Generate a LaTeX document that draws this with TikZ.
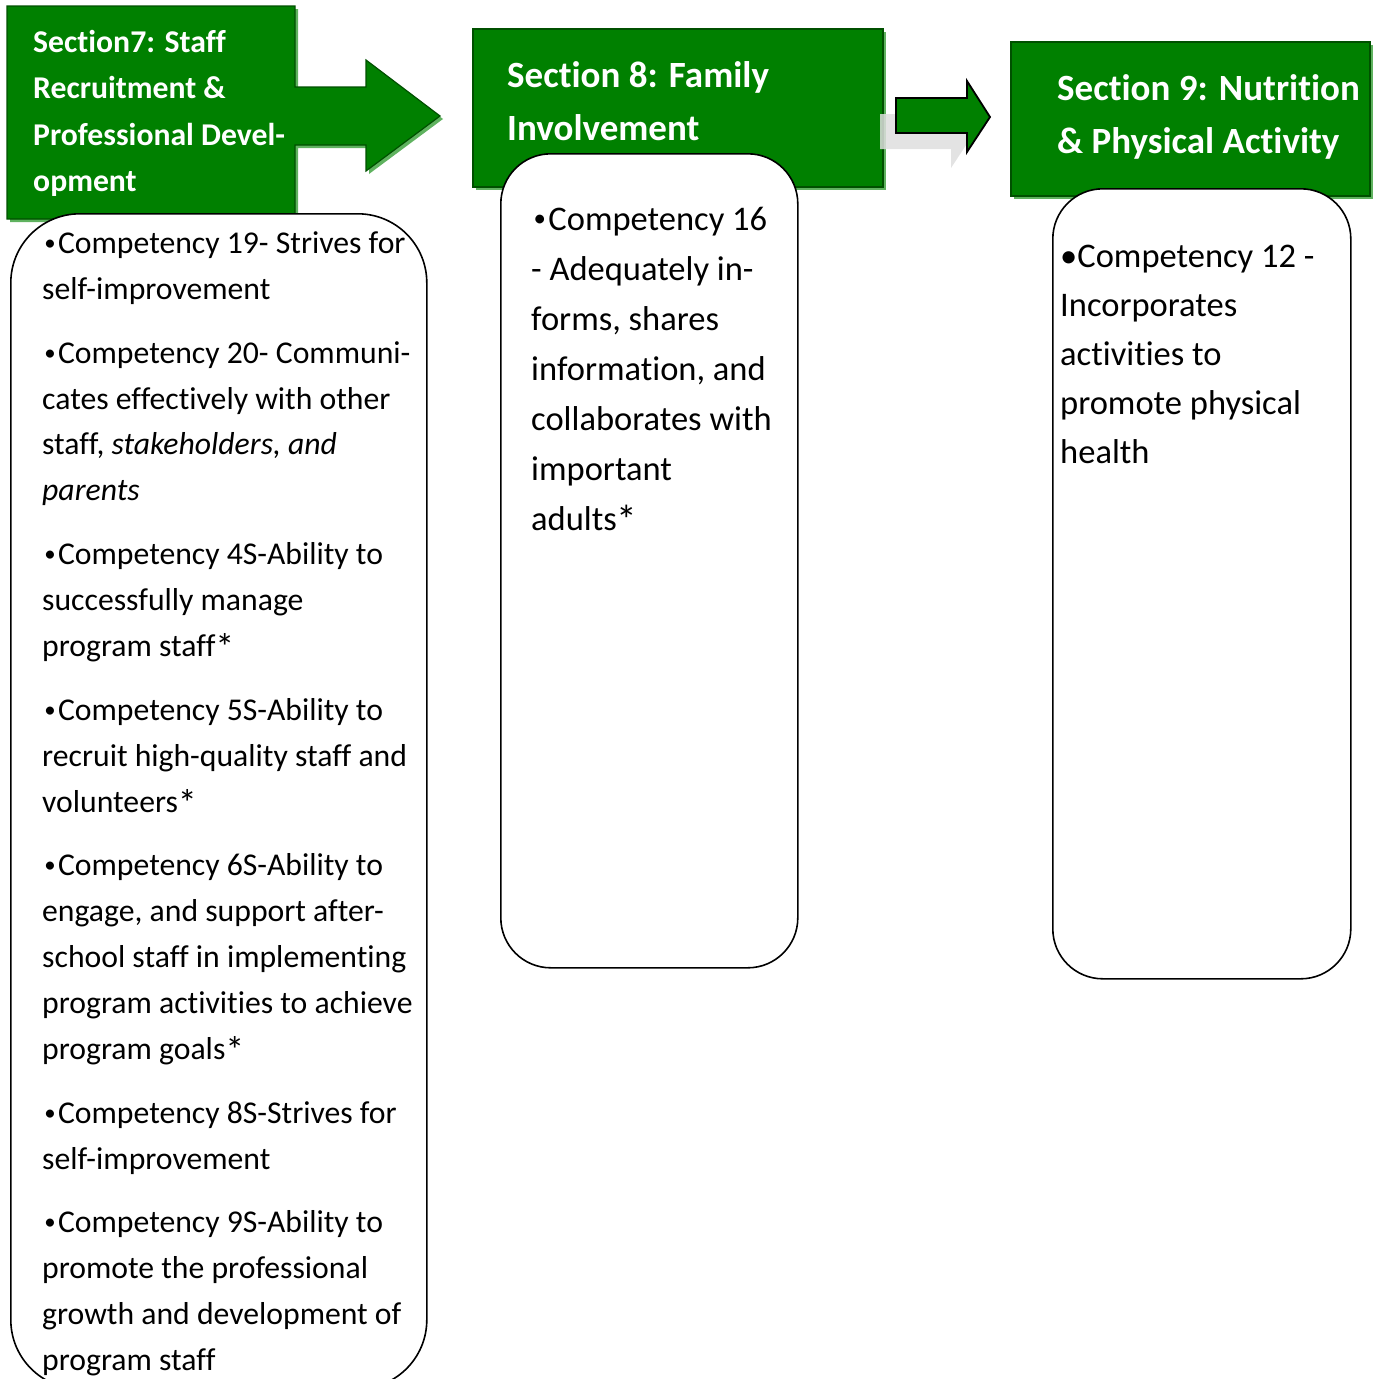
\documentclass[tikz,border=0pt]{standalone}
\usepackage{fontspec}
\usepackage{graphicx}
\setmainfont{Carlito}[Ligatures=NoCommon]
\definecolor{secgreen}{RGB}{0,128,0}
\definecolor{secdark}{RGB}{0,80,0}
\definecolor{secshadow}{RGB}{95,178,95}
\definecolor{arrshadow}{RGB}{222,222,222}
\newcommand{\smallbul}{\makebox[0.5em][c]{\raisebox{0.09em}{\scalebox{0.72}{•}}}}
\newcommand{\bigast}{\raisebox{-0.14em}{\scalebox{1.2}{*}}}
\begin{document}
\begin{tikzpicture}[x=1pt,y=-1pt,
  greenshape/.style={fill=secgreen, draw=secdark, line width=1.2pt, line join=miter},
  shadowshape/.style={fill=secshadow},
  panel/.style={draw=black, fill=white, line width=1.6pt, inner sep=0pt, anchor=north west},
  headA/.style={text=white, anchor=base west, inner sep=0pt, font=\fontsize{31.7}{38}\selectfont\bfseries},
  headB/.style={text=white, anchor=base west, inner sep=0pt, font=\fontsize{37}{44}\selectfont\bfseries},
  bodyA/.style={anchor=base west, inner sep=0pt, font=\fontsize{31.7}{38}\selectfont},
  bodyB/.style={anchor=base west, inner sep=0pt, font=\fontsize{34.5}{41}\selectfont}]
\useasboundingbox (0,0) rectangle (1378,1379);
\clip (0,0) rectangle (1378,1379);

% ---------- Section 7 arrow box ----------
\fill[shadowshape] (10,9) -- (298,9) -- (298,90) -- (369,90) -- (369,63) -- (443,119) -- (369,174) -- (369,148) -- (298,148) -- (298,222) -- (10,222) -- cycle;
\draw[greenshape] (7,6) -- (295,6) -- (295,87) -- (366,87) -- (366,60) -- (440,116) -- (366,171) -- (366,145) -- (295,145) -- (295,219) -- (7,219) -- cycle;

% ---------- Section 8 box ----------
\fill[shadowshape] (476,32) rectangle (886,190);
\draw[greenshape] (473,29) rectangle (883,187);

% ---------- small arrow 8 -> 9 with shadow ----------
\fill[arrshadow, opacity=0.85] (880,114) -- (951,114) -- (951,97) -- (974,133) -- (951,168) -- (951,149) -- (880,149) -- cycle;
\draw[fill=secgreen, draw=black, line width=1.8pt, line join=miter] (896,98) -- (967,98) -- (967,81) -- (990,117) -- (967,152) -- (967,133) -- (896,133) -- cycle;

% ---------- Section 9 box ----------
\fill[shadowshape] (1014,45) rectangle (1373,199);
\draw[greenshape] (1011,42) rectangle (1370,196);

% ---------- white rounded panels ----------
\node[panel, rounded corners=69pt, minimum width=416pt, minimum height=1175pt] (b7) at (10,213) {};
\node[panel, rounded corners=50pt, minimum width=297pt, minimum height=814pt] (b8) at (500,153) {};
\node[panel, rounded corners=50pt, minimum width=298pt, minimum height=790pt] (b9) at (1052,188) {};

% ---------- headings ----------
\foreach \yy/\txt [count=\i] in {52/{Section7: Staff}, 98/{Recruitment \&}, 145/{Professional Devel-}, 191/{opment}}
  \node[headA] (h7-\i) at (33,\yy) {\txt};
\foreach \yy/\txt [count=\i] in {87/{Section 8: Family}, 140/{Involvement}}
  \node[headB] (h8-\i) at (507,\yy) {\txt};
\foreach \yy/\txt [count=\i] in {100/{Section 9: Nutrition}, 153/{\& Physical Activity}}
  \node[headB] (h9-\i) at (1057,\yy) {\txt};

% ---------- panel 7 text ----------
\foreach \yy/\txt [count=\i] in {
  253/{\smallbul Competency 19- Strives for},
  299/{self-improvement},
  363/{\smallbul Competency 20- Communi-},
  409/{cates effectively with other},
  454/{staff, \textit{stakeholders, and}},
  500/{\textit{parents}},
  564/{\smallbul Competency 4S-Ability to},
  610/{successfully manage},
  656/{program staff\bigast},
  720/{\smallbul Competency 5S-Ability to},
  766/{recruit high-quality staff and},
  812/{volunteers\bigast},
  875/{\smallbul Competency 6S-Ability to},
  921/{engage, and support after-},
  967/{school staff in implementing},
  1013/{program activities to achieve},
  1059/{program goals\bigast},
  1123/{\smallbul Competency 8S-Strives for},
  1169/{self-improvement},
  1232/{\smallbul Competency 9S-Ability to},
  1278/{promote the professional},
  1324/{growth and development of},
  1370/{program staff}}
  \node[bodyA] (t7-\i) at (42,\yy) {\txt};

% ---------- panel 8 text ----------
\foreach \yy/\txt [count=\i] in {
  230/{\smallbul Competency 16},
  280/{- Adequately in-},
  330/{forms, shares},
  380/{information, and},
  430/{collaborates with},
  480/{important},
  530/{adults\bigast}}
  \node[bodyB] (t8-\i) at (531,\yy) {\txt};

% ---------- panel 9 text ----------
\foreach \yy/\txt [count=\i] in {
  267/{•Competency 12 -},
  316/{Incorporates},
  365/{activities to},
  414/{promote physical},
  463/{health}}
  \node[bodyB] (t9-\i) at (1060,\yy) {\txt};
\end{tikzpicture}
\end{document}
